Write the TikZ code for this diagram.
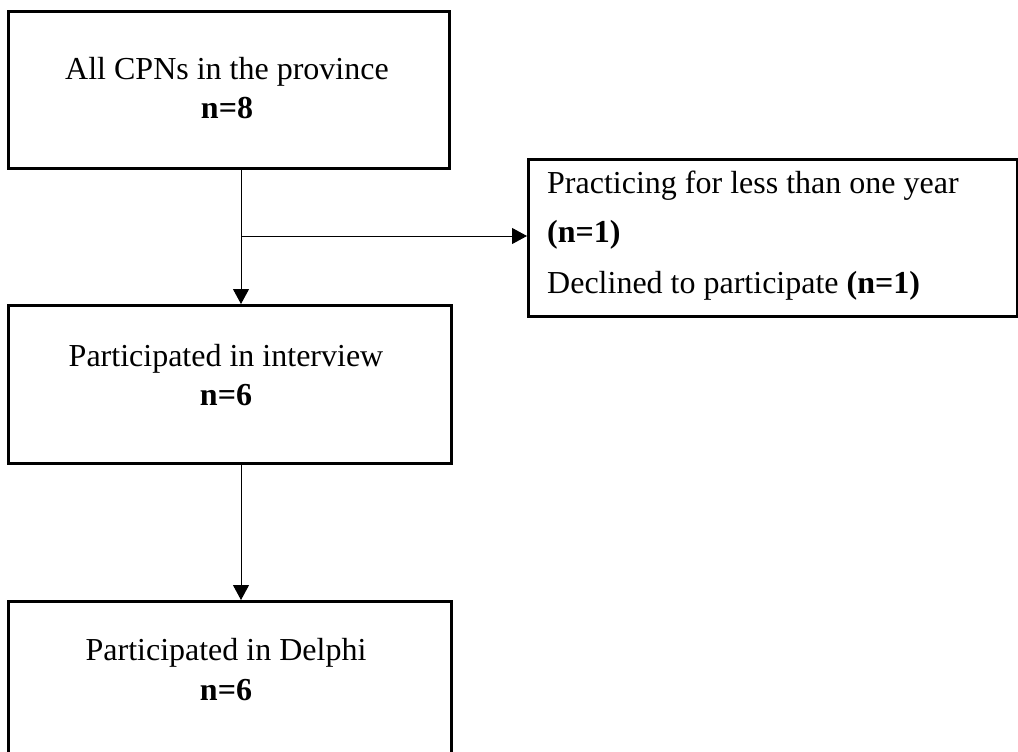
\documentclass[tikz,border=0pt]{standalone}
\usepackage{fontspec}
\setmainfont{Liberation Serif}
\usetikzlibrary{arrows.meta}
\begin{document}
\begin{tikzpicture}[x=1pt,y=-1pt,
  boxnode/.style={draw=black,line width=2.6pt,rectangle,inner sep=0pt,anchor=north west},
  txt/.style={inner sep=0pt,anchor=base,font=\fontsize{32}{38}\selectfont},
  ltxt/.style={inner sep=0pt,anchor=base west,font=\fontsize{32}{38}\selectfont},
  conn/.style={line width=1pt,-{Triangle[length=15pt,width=16pt]}}]
\useasboundingbox (0,0) rectangle (1018,752);
\clip (0,0) rectangle (1018,752);
% boxes
\node[boxnode,minimum width=441pt,minimum height=157pt] (b1) at (7,10) {};
\node[boxnode,minimum width=443pt,minimum height=158pt] (b2) at (7,304) {};
\node[boxnode,minimum width=443pt,minimum height=160pt] (b3) at (7,600) {};
\node[boxnode,minimum width=489pt,minimum height=157pt] (side) at (527,158) {};
% texts
\node[txt] (t1a) at (227,80) {All CPNs in the province};
\node[txt] (t1b) at (227,118) {\bfseries n=8};
\node[txt] (t2a) at (226,366) {Participated in interview};
\node[txt] (t2b) at (226,405) {\bfseries n=6};
\node[txt] (t3a) at (226,660) {Participated in Delphi};
\node[txt] (t3b) at (226,700) {\bfseries n=6};
\node[ltxt] (s1) at (547,193) {Practicing for less than one year};
\node[ltxt] (s2) at (547,242) {\bfseries (n=1)};
\node[ltxt] (s3) at (547,293) {Declined to participate \textbf{(n=1)}};
% connectors
\coordinate (br) at (241,236);
\draw[conn] (b1.south -| br) -- (b2.north -| br);
\draw[conn] (br) -- (br -| side.west);
\draw[conn] (b2.south -| br) -- (b3.north -| br);
\end{tikzpicture}
\end{document}
